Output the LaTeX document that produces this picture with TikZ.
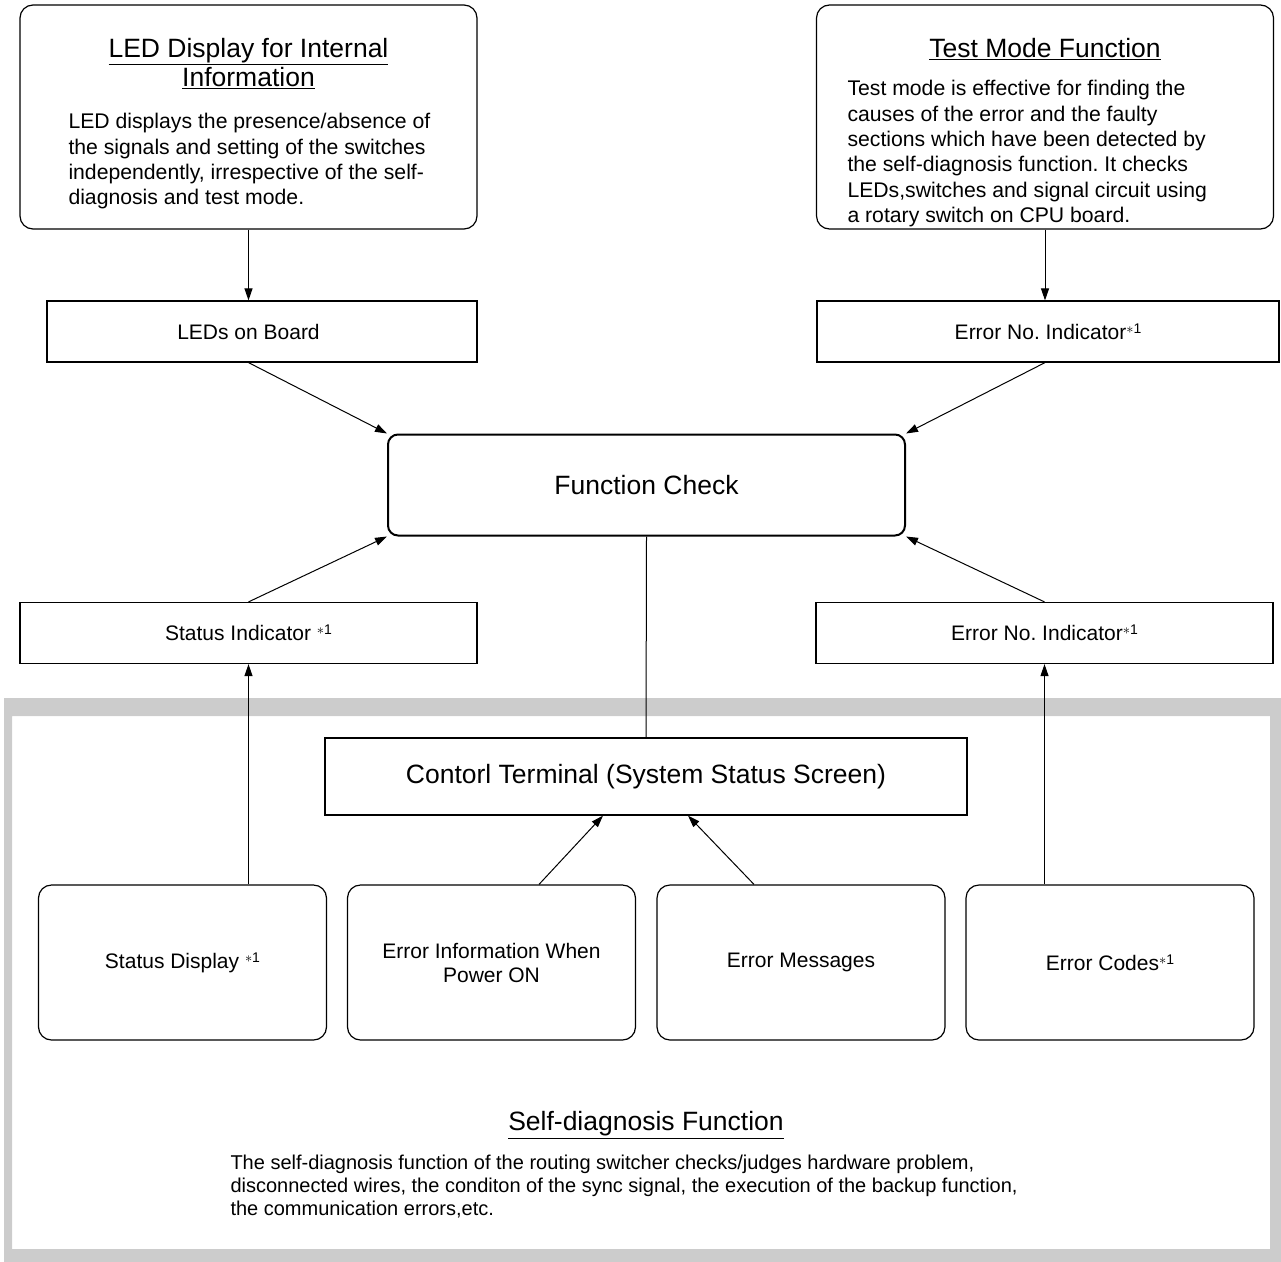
\documentclass[tikz,border=0pt]{standalone}
\usepackage{fontspec}
\setmainfont{Liberation Sans}
\usetikzlibrary{arrows.meta}
\definecolor{framegray}{RGB}{204,204,204}
\newcommand{\noteone}{{\fontsize{14pt}{14pt}\selectfont\raisebox{6pt}{$\ast$1}}}
\frenchspacing

\begin{document}
\begin{tikzpicture}[x=1pt,y=-1pt,>={Triangle[length=12pt,width=8pt]},line width=1pt,
  bigbox/.style={draw,line width=1.2pt,rounded corners=13pt,minimum width=457pt,minimum height=224pt,inner sep=0pt},
  flatbox/.style={draw,line width=1.2pt,minimum height=61pt,inner sep=0pt,font=\fontsize{21pt}{24pt}\selectfont},
  boxtext/.style={inner sep=0pt,font=\fontsize{21pt}{24pt}\selectfont},
  roundbox/.style={draw,line width=1.2pt,rounded corners=13pt,minimum width=288pt,minimum height=155pt,inner sep=0pt,align=center,font=\fontsize{21pt}{24pt}\selectfont},
  titletext/.style={inner sep=0pt,align=center,font=\fontsize{26.5pt}{29pt}\selectfont},
  bodytext/.style={inner sep=0pt,align=left,font=\fontsize{21.2pt}{25.3pt}\selectfont},
  paratext/.style={inner sep=0pt,align=left,font=\fontsize{20pt}{23pt}\selectfont}]
\useasboundingbox (0,0) rectangle (1281,1261);
\fill[framegray,even odd rule] (4,698) rectangle (1295,1275) (12,716) rectangle (1270,1249);

\node[bigbox] (led_box) at (248.5,117) {};
\node[titletext,anchor=north] (led_title) at (248.5,38) {\underline{LED Display for Internal}\\\underline{Information}};
\node[bodytext,anchor=north west] (led_body) at (68,113) {LED displays the presence/absence of\\the signals and setting of the switches\\independently, irrespective of the self-\\diagnosis and test mode.};
\node[bigbox] (test_box) at (1045,117) {};
\node[titletext,anchor=north] (test_title) at (1045,38) {\underline{Test Mode Function}};
\node[bodytext,anchor=north west] (test_body) at (847,80) {Test mode is effective for finding the\\causes of the error and the faulty\\sections which have been detected by\\the self-diagnosis function. It checks\\LEDs,switches and signal circuit using\\a rotary switch on CPU board.};

\node[flatbox,minimum width=430pt] (leds) at (262,331.5) {};
\node[boxtext] (leds_text) at (248.5,331.5) {LEDs on Board};
\node[flatbox,minimum width=462pt] (errno_top) at (1048,331.5) {Error No. Indicator\noteone};
\node[draw,line width=2pt,rounded corners=10pt,minimum width=517pt,minimum height=101pt,font=\fontsize{26.5pt}{30pt}\selectfont] (fc) at (646.5,485) {Function Check};
\node[flatbox,minimum width=457pt] (status_ind) at (248.5,633) {Status Indicator \noteone};
\node[flatbox,minimum width=457pt] (errno_low) at (1044.5,633) {Error No. Indicator\noteone};
\node[flatbox,minimum width=642pt,minimum height=77pt,font=\fontsize{26.5pt}{30pt}\selectfont] (terminal) at (646,776.5) {Contorl Terminal (System Status Screen)};

\node[roundbox] (status_disp) at (182.5,962.5) {Status Display \noteone};
\node[roundbox] (err_info) at (491.5,962.5) {Error Information When\\Power ON};
\node[roundbox] (err_msgs) at (801,962.5) {Error Messages};
\node[roundbox] (err_codes) at (1110,962.5) {Error Codes\noteone};

\node[titletext] (self_title) at (646,1125) {\underline{Self-diagnosis Function}};
\node[paratext,anchor=north west] (self_body) at (230,1154) {The self-diagnosis function of the routing switcher checks/judges hardware problem,\\disconnected wires, the conditon of the sync signal, the execution of the backup function,\\the communication errors,etc.};

\draw[->] (led_box.south) -- (led_box.south |- leds.north);
\draw[->] (test_box.south) -- (test_box.south |- errno_top.north);
\draw[->] (led_box.south |- leds.south) -- (fc.north west);
\draw[->] (test_box.south |- errno_top.south) -- (fc.north east);
\draw[->] (status_ind.north) -- (fc.south west);
\draw[->] (errno_low.north) -- (fc.south east);
\draw (fc.south) -- (terminal.north);
\draw[->] (status_ind.south |- status_disp.north) -- (status_ind.south);
\draw[->] (errno_low.south |- err_codes.north) -- (errno_low.south);
\draw[->] ([xshift=47.5pt]err_info.north) -- ([xshift=-43pt]terminal.south);
\draw[->] ([xshift=-47pt]err_msgs.north) -- ([xshift=42pt]terminal.south);
\end{tikzpicture}
\end{document}
